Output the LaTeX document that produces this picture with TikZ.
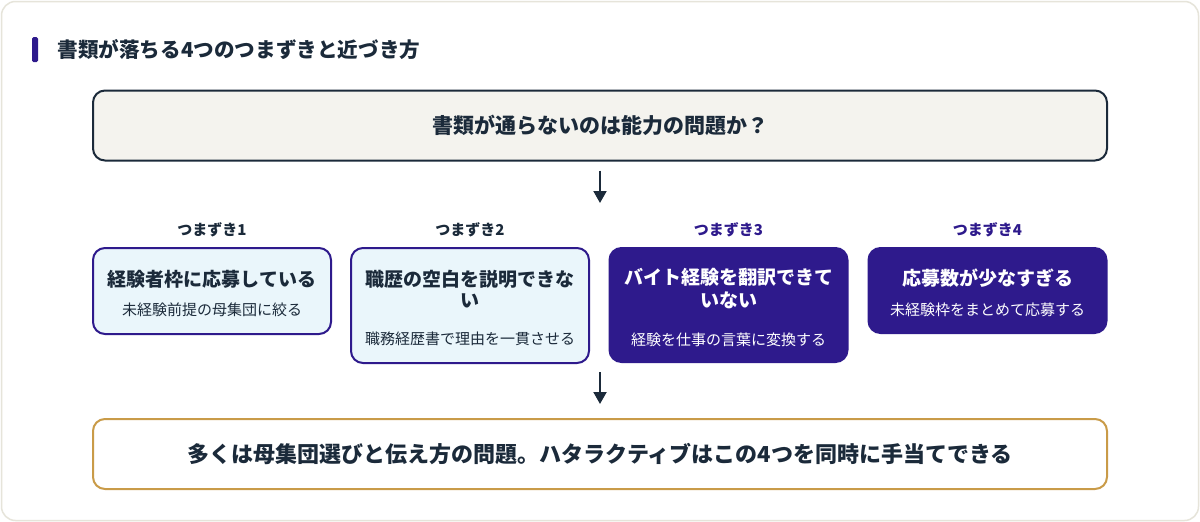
\documentclass[tikz,border=0pt]{standalone}
\usepackage{fontspec}
\setmainfont{Noto Sans CJK JP}
\usetikzlibrary{arrows.meta}

\definecolor{navy}{HTML}{1B2A3A}
\definecolor{deeppurple}{HTML}{2E1A8C}
\definecolor{paleblue}{HTML}{EAF6FB}
\definecolor{paper}{HTML}{F4F3EE}
\definecolor{gold}{HTML}{C99B48}
\definecolor{cardedge}{HTML}{E6E4DA}

\newcommand{\mainsize}{\bfseries\fontsize{19}{22}\selectfont\rule{0pt}{21pt}}
\newcommand{\subsize}{\fontsize{15}{18}\selectfont}

\begin{document}
\begin{tikzpicture}[x=1pt, y=-1pt,
    wide/.style={rounded corners=12pt, line width=2pt, minimum width=1014pt,
        minimum height=70pt, text=navy, font=\bfseries\fontsize{21}{25}\selectfont},
    snag/.style={anchor=north, rounded corners=12pt, line width=2pt,
        minimum width=238pt, align=center},
    lightsnag/.style={snag, draw=deeppurple, fill=paleblue, text=navy},
    darksnag/.style={snag, draw=deeppurple, fill=deeppurple, text=white},
    snaglabel/.style={font=\bfseries\fontsize{15}{18}\selectfont},
    arr/.style={draw=navy, line width=2pt, -{Triangle[length=12pt,width=13pt]}}]
\useasboundingbox (0,0) rectangle (1200,522);
\fill[white] (0,0) rectangle (1200,522);
\draw[cardedge, line width=1.5pt, rounded corners=14pt] (1.5,1.5) rectangle (1198.5,520.5);

% heading
\fill[deeppurple, rounded corners=1.5pt] (32,37) rectangle (38,62);
\node[anchor=west, text=navy, font=\bfseries\fontsize{20.6}{25}\selectfont] (heading) at (54,50)
    {書類が落ちる4つのつまずきと近づき方};

% question and answer
\node[wide, draw=navy, fill=paper] (question) at (600,125.5) {書類が通らないのは能力の問題か？};
\node[wide, draw=gold, fill=white, font=\bfseries\fontsize{22}{26}\selectfont] (answer) at (600,454)
    {多くは母集団選びと伝え方の問題。ハタラクティブはこの4つを同時に手当てできる};

% four snags
\node[snaglabel, text=navy] (lab1) at (212,230) {つまずき1};
\node[snaglabel, text=navy] (lab2) at (470,230) {つまずき2};
\node[snaglabel, text=deeppurple] (lab3) at (728.5,230) {つまずき3};
\node[snaglabel, text=deeppurple] (lab4) at (987.5,230) {つまずき4};

\node[lightsnag, minimum height=86pt] (snag1) at (212,247)
    {{\mainsize 経験者枠に応募している}\\[14pt]{\subsize 未経験前提の母集団に絞る}};
\node[lightsnag, minimum height=115pt] (snag2) at (470,247)
    {{\mainsize 職歴の空白を説明できな}\\[4pt]{\bfseries\fontsize{19}{22}\selectfont い}\\[23pt]{\subsize 職務経歴書で理由を一貫させる}};
\node[darksnag, minimum height=114pt] (snag3) at (728.5,247)
    {{\mainsize バイト経験を翻訳できて}\\[4pt]{\bfseries\fontsize{19}{22}\selectfont いない}\\[23pt]{\subsize 経験を仕事の言葉に変換する}};
\node[darksnag, minimum height=85pt] (snag4) at (987.5,247)
    {{\mainsize 応募数が少なすぎる}\\[14pt]{\subsize 未経験枠をまとめて応募する}};

% arrows
\coordinate (down1) at (600,203);
\coordinate (up2) at (600,372);
\coordinate (down2) at (600,404);
\draw[arr] ([yshift=-9pt]question.south) -- (down1);
\draw[arr] (up2) -- (down2);
\end{tikzpicture}
\end{document}
